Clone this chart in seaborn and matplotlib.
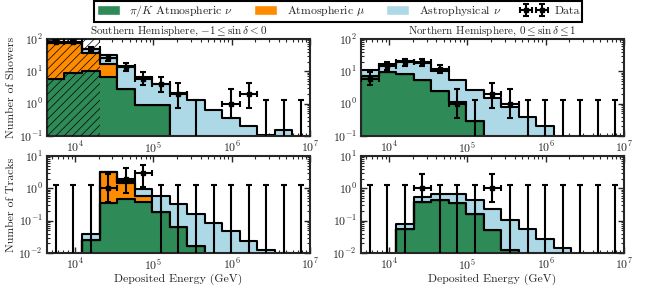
import numpy as np
import pandas as pd
import seaborn as sns
import matplotlib.pyplot as plt
from matplotlib.patches import Patch

# 15 log-spaced bins in deposited energy (GeV)
log_edges = np.linspace(3.64, 7.0, 16)
edges = 10 ** log_edges
centers = 10 ** (0.5 * (log_edges[:-1] + log_edges[1:]))

components = ['Astrophysical', 'Atmospheric mu', 'pi/K']
colors = {'pi/K': '#2e8b57', 'Atmospheric mu': '#ff8c00', 'Astrophysical': '#add8e6'}

# expected events per bin, per component (not cumulative)
# southern hemisphere, showers
ss_pik   = [5.7, 9.1, 10.2, 6.5, 2.8, 0.91, 0.90, 0, 0, 0, 0, 0, 0, 0, 0]
ss_mu    = [71, 68, 26, 9.9, 0, 0, 0, 0, 0, 0, 0, 0, 0, 0, 0]
ss_astro = [3.3, 3.0, 12, 15.6, 12.2, 5.6, 3.2, 2.1, 1.3, 0.64, 0.37, 0.20, 0.107, 0.155, 0.09]
# northern hemisphere, showers
ns_pik   = [7.0, 9.8, 8.3, 5.4, 2.5, 1.1, 0.3, 0, 0, 0, 0, 0, 0, 0, 0]
ns_mu    = [0, 0, 0, 0, 0, 0, 0, 0, 0, 0, 0, 0, 0, 0, 0]
ns_astro = [4.0, 6.7, 12.7, 13.1, 7.7, 4.3, 2.3, 1.46, 0.77, 0.38, 0.21, 0, 0, 0, 0]
# southern hemisphere, tracks
st_pik   = [0, 0, 0.026, 0.34, 0.48, 0.39, 0.19, 0.063, 0.016, 0, 0, 0, 0, 0, 0]
st_mu    = [0, 0, 0, 2.76, 1.02, 0.18, 0, 0, 0, 0, 0, 0, 0, 0, 0]
st_astro = [0, 0, 0.012, 0.10, 0.20, 0.36, 0.38, 0.257, 0.144, 0.083, 0.047, 0.024, 0.0126, 0.0103, 0]
# northern hemisphere, tracks
nt_pik   = [0, 0, 0.055, 0.39, 0.44, 0.36, 0.16, 0.052, 0.0126, 0, 0, 0, 0, 0, 0]
nt_mu    = [0, 0, 0, 0, 0, 0, 0, 0, 0, 0, 0, 0, 0, 0, 0]
nt_astro = [0, 0, 0.022, 0.16, 0.25, 0.33, 0.28, 0.178, 0.091, 0.055, 0.028, 0.014, 0, 0, 0]

# observed events and 68% intervals (lower, upper); nan = no entry drawn
ss_data = [83, 82, 50, 26, 14, 6, 4, 2, 0, np.nan, 1, 2, 0, 0, 0]
ss_lo   = [74, 73, 43, 21, 10.3, 3.82, 2.34, 0.74, 0, np.nan, 0.37, 0.74, 0, 0, 0]
ss_hi   = [92, 91, 57, 31.5, 18, 9.28, 6.78, 4.25, 1.29, np.nan, 2.75, 4.25, 1.29, 1.29, 1.29]
ns_data = [6, 15, 19, 19, 12, 1, 0, 2, 1, 0, 0, 0, 0, 0, 0]
ns_lo   = [3.82, 11.4, 14.9, 14.9, 8.9, 0.37, 0, 0.74, 0.37, 0, 0, 0, 0, 0, 0]
ns_hi   = [9.28, 19.2, 23.6, 23.6, 15.5, 2.75, 1.29, 4.25, 2.75, 1.29, 1.29, 1.29, 1.29, 1.29, 1.29]
st_data = [0, 0, 0, 1, 2, 3, 0, 0, 0, 0, 0, 0, 0, 0, 0]
st_lo   = [0, 0, 0, 0.37, 0.74, 1.10, 0, 0, 0, 0, 0, 0, 0, 0, 0]
st_hi   = [1.29, 1.29, 1.29, 2.75, 4.25, 5.30, 1.29, 1.29, 1.29, 1.29, 1.29, 1.29, 1.29, 1.29, 1.29]
nt_data = [0, 0, 0, 1, 0, 0, 0, 1, 0, 0, 0, 0, 0, 0, 0]
nt_lo   = [0, 0, 0, 0.37, 0, 0, 0, 0.37, 0, 0, 0, 0, 0, 0, 0]
nt_hi   = [1.29, 1.29, 1.29, 2.75, 1.29, 1.29, 1.29, 2.75, 1.29, 1.29, 1.29, 1.29, 1.29, 1.29, 1.29]

sns.set_style('ticks')
plt.rcParams['font.family'] = ['serif']
plt.rcParams['font.serif'] = ['cmr10']
plt.rcParams['mathtext.fontset'] = 'cm'
plt.rcParams['axes.formatter.use_mathtext'] = True
plt.rcParams['hatch.linewidth'] = 0.5
plt.rcParams['font.size'] = 8.5

fig = plt.figure(figsize=(6.7, 2.89), dpi=100)
pos = {
    'ss': [0.0701, 0.5294, 0.3925, 0.3356],
    'ns': [0.5388, 0.5294, 0.3925, 0.3356],
    'st': [0.0701, 0.1246, 0.3925, 0.3356],
    'nt': [0.5388, 0.1246, 0.3925, 0.3356],
}
panels = {
    'ss': (ss_pik, ss_mu, ss_astro, ss_data, ss_lo, ss_hi),
    'ns': (ns_pik, ns_mu, ns_astro, ns_data, ns_lo, ns_hi),
    'st': (st_pik, st_mu, st_astro, st_data, st_lo, st_hi),
    'nt': (nt_pik, nt_mu, nt_astro, nt_data, nt_lo, nt_hi),
}

data_handle = None
for key, (pik, mu, astro, obs, lo, hi) in panels.items():
    ax = fig.add_axes(pos[key])
    df = pd.DataFrame({
        'energy': np.tile(centers, 3),
        'count': np.concatenate([pik, mu, astro]),
        'component': np.repeat(['pi/K', 'Atmospheric mu', 'Astrophysical'], len(centers)),
    })
    sns.histplot(data=df, x='energy', weights='count', hue='component',
                 hue_order=components, palette=colors, bins=list(log_edges),
                 multiple='stack', element='step', log_scale=True,
                 edgecolor='black', linewidth=1.5, alpha=1, legend=False, ax=ax)
    ax.set_yscale('log')

    obs = np.array(obs, dtype=float)
    lo = np.array(lo, dtype=float)
    hi = np.array(hi, dtype=float)
    xlo = centers - edges[:-1]
    xhi = edges[1:] - centers
    seen = obs > 0
    empty = obs == 0
    eb = ax.errorbar(centers[seen], obs[seen],
                     yerr=[obs[seen] - lo[seen], hi[seen] - obs[seen]],
                     xerr=[xlo[seen], xhi[seen]], fmt='s', ms=3, color='black',
                     elinewidth=1.5, capsize=2.5, capthick=1.5, zorder=5)
    ax.errorbar(centers[empty], obs[empty], yerr=[obs[empty], hi[empty]],
                fmt='none', color='black', elinewidth=1.5, capsize=2.5,
                capthick=1.5, zorder=5)
    if data_handle is None:
        data_handle = eb

    if key == 'ss':
        ax.axvspan(edges[0], edges[3], facecolor='none', edgecolor='black',
                   hatch='////', linewidth=0, zorder=4)

    ax.set_xlim(edges[0], 1e7)
    if key in ('ss', 'ns'):
        ax.set_ylim(0.1, 100)
    else:
        ax.set_ylim(0.01, 10)
    ax.set_xticks([1e4, 1e5, 1e6, 1e7])
    ax.tick_params(which='both', direction='in', top=True, right=True, pad=3)
    ax.tick_params(which='major', length=4, width=1)
    ax.tick_params(which='minor', length=2, width=0.8)
    for s in ax.spines.values():
        s.set_linewidth(1.5)
    ax.set_ylabel('')
    ax.set_xlabel('')

    if key == 'ss':
        ax.set_title(r'Southern Hemisphere, $-1 \leq \sin\delta < 0$', fontsize=8, pad=4)
        ax.set_ylabel('Number of Showers', labelpad=2)
    elif key == 'ns':
        ax.set_title(r'Northern Hemisphere, $0 \leq \sin\delta \leq 1$', fontsize=8, pad=4)
    elif key == 'st':
        ax.set_ylabel('Number of Tracks', labelpad=2)
        ax.set_xlabel('Deposited Energy (GeV)', labelpad=1)
    else:
        ax.set_xlabel('Deposited Energy (GeV)', labelpad=1)

handles = [Patch(facecolor=colors['pi/K']), Patch(facecolor=colors['Atmospheric mu']),
           Patch(facecolor=colors['Astrophysical']), data_handle]
labels = [r'$\pi/K$ Atmospheric $\nu$', r'Atmospheric $\mu$', r'Astrophysical $\nu$', 'Data']
leg = fig.legend(handles, labels, loc='upper center', bbox_to_anchor=(0.505, 0.997),
                 ncol=4, frameon=True, fancybox=False, framealpha=1, edgecolor='black',
                 borderpad=0.2, handlelength=1.95, handleheight=0.85, columnspacing=1.8,
                 numpoints=2, borderaxespad=0.0)
leg.get_frame().set_linewidth(1.5)

fig.savefig('out.png', dpi=100)
